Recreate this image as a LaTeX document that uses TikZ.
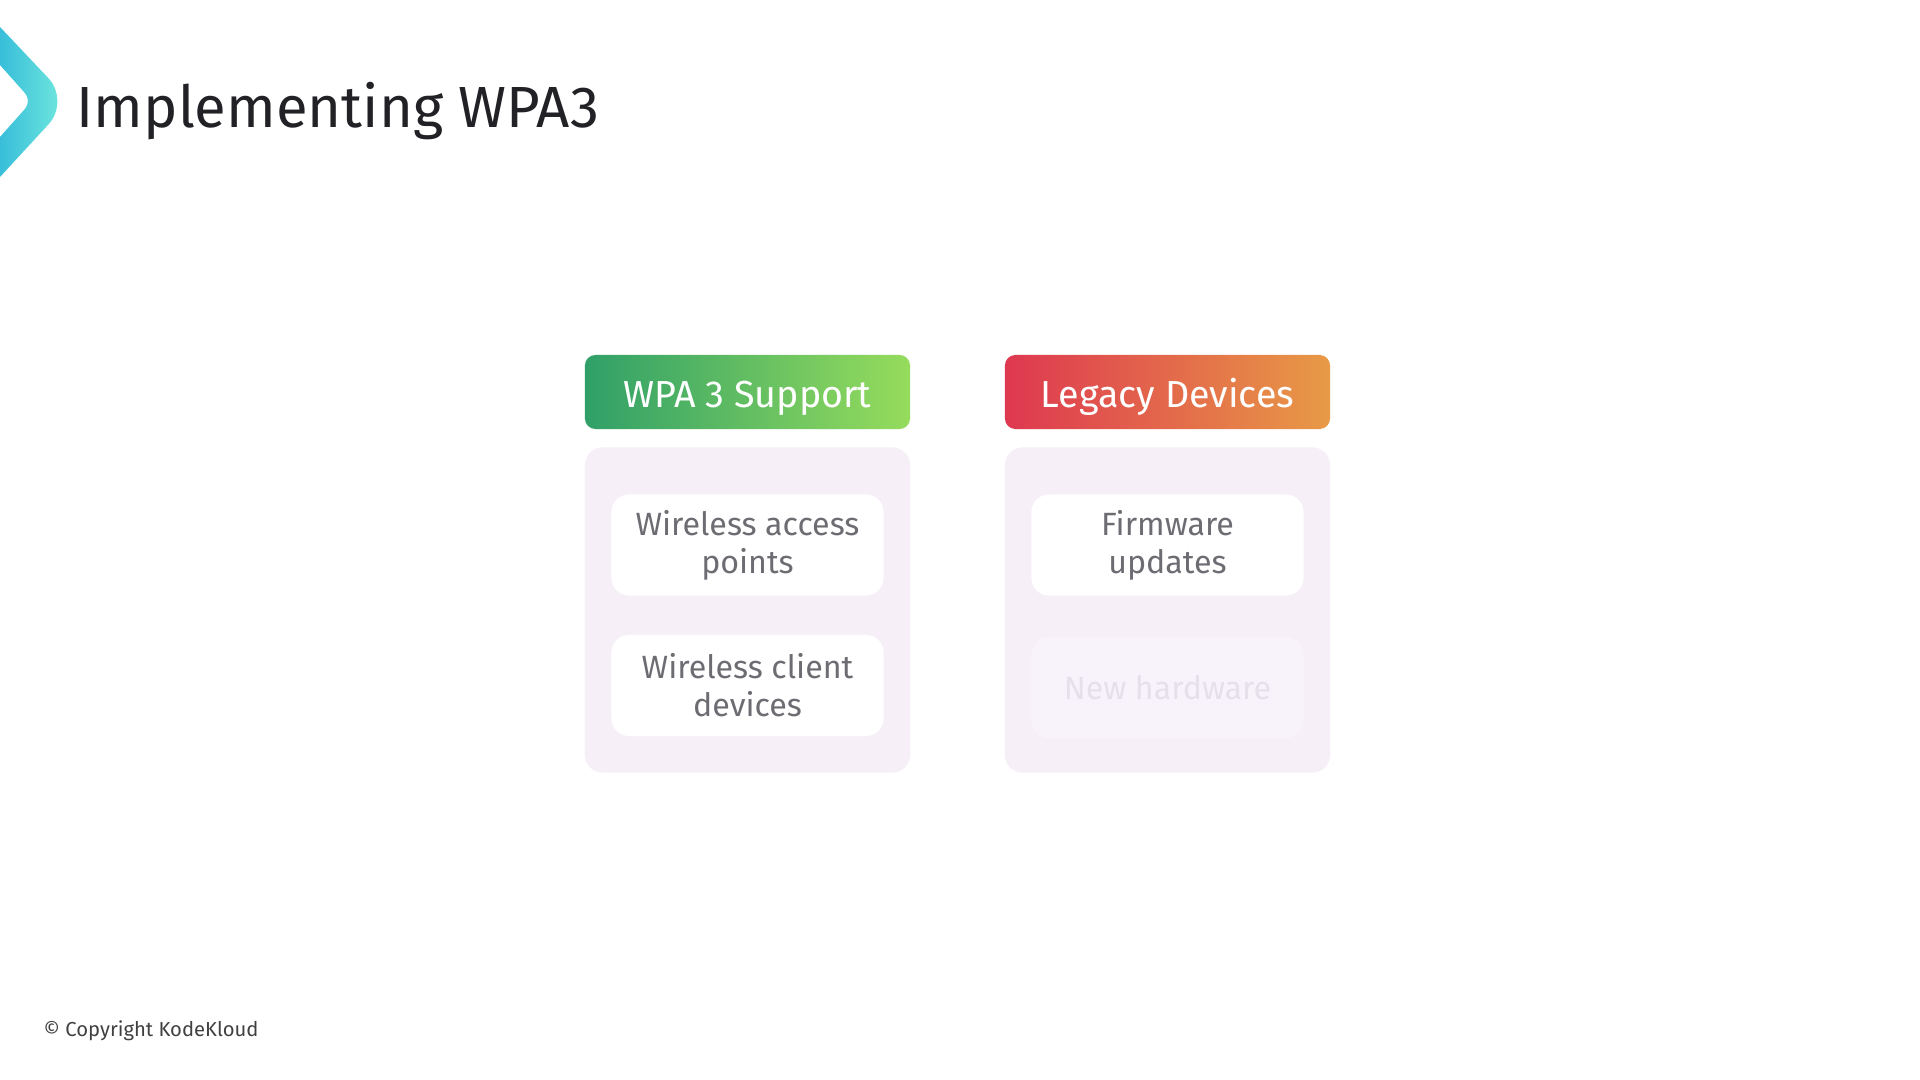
\documentclass[tikz,border=0pt]{standalone}
\usepackage{fontspec}
\setmainfont{Fira Sans}
\usepackage{tikz}
\usetikzlibrary{positioning}
\definecolor{wpaleft}{RGB}{48,160,104}
\definecolor{wparight}{RGB}{150,220,92}
\definecolor{legleft}{RGB}{222,56,80}
\definecolor{legright}{RGB}{232,154,70}
\definecolor{panelbg}{RGB}{246,239,247}
\definecolor{itemtext}{RGB}{108,108,114}
\definecolor{fadetext}{RGB}{230,224,234}
\definecolor{fadefill}{RGB}{248,243,250}
\definecolor{logoA}{RGB}{56,190,218}
\definecolor{logoB}{RGB}{118,236,222}
\definecolor{titletext}{RGB}{34,34,38}
\tikzset{
  colhead/.style={rounded corners=3pt, minimum width=3.25cm, minimum height=0.74cm,
                  text=white, font=\fontsize{10.7}{13}\selectfont, inner sep=0pt,
                  text height=8.7pt, text depth=0pt},
  colpanel/.style={fill=panelbg, rounded corners=5pt, minimum width=3.25cm,
                   minimum height=3.25cm, inner sep=0pt},
  itembox/.style={fill=white, rounded corners=5pt, minimum width=2.72cm,
                  minimum height=1.01cm, align=center, text=itemtext, inner sep=0pt,
                  font=\fontsize{9.15}{10.8}\selectfont},
  fadebox/.style={itembox, fill=fadefill, text=fadetext},
}
\begin{document}
\begin{tikzpicture}[x=0.01cm, y=-0.01cm]
  \useasboundingbox[fill=white] (0,0) rectangle (1920,1080);
  \shade[left color=logoA, right color=logoB]
    (0,27) [rounded corners=9pt] -- (70,101) [sharp corners] -- (0,177) -- (0,137)
    [rounded corners=3pt] -- (32,101) [sharp corners] -- (0,65) -- cycle;
  \node[anchor=base west, text=titletext, font=\fontsize{16.5}{20}\selectfont, inner sep=0pt]
    (title) at (76,128) {Implementing WPA3};
  \node[colhead, left color=wpaleft, right color=wparight] (wpahead) at (747.5,392) {WPA 3 Support};
  \node[colhead, left color=legleft, right color=legright] (leghead) at (1167.5,392) {Legacy Devices};
  \node[colpanel, below=0.17cm of wpahead] (wpapanel) {};
  \node[colpanel, below=0.17cm of leghead] (legpanel) {};
  \node[itembox, below=0.47cm of wpapanel.north] (wap) {Wireless access\\points};
  \node[itembox, below=0.38cm of wap] (wcd) {Wireless client\\devices};
  \node[itembox, below=0.47cm of legpanel.north] (fw) {Firmware\\updates};
  \node[fadebox, below=0.40cm of fw] (nhw) {New hardware};
  \node[anchor=base west, text=black!75, font=\fontsize{5.75}{7}\selectfont, inner sep=0pt]
    (copy) at (43,1037) {© Copyright KodeKloud};
\end{tikzpicture}
\end{document}
